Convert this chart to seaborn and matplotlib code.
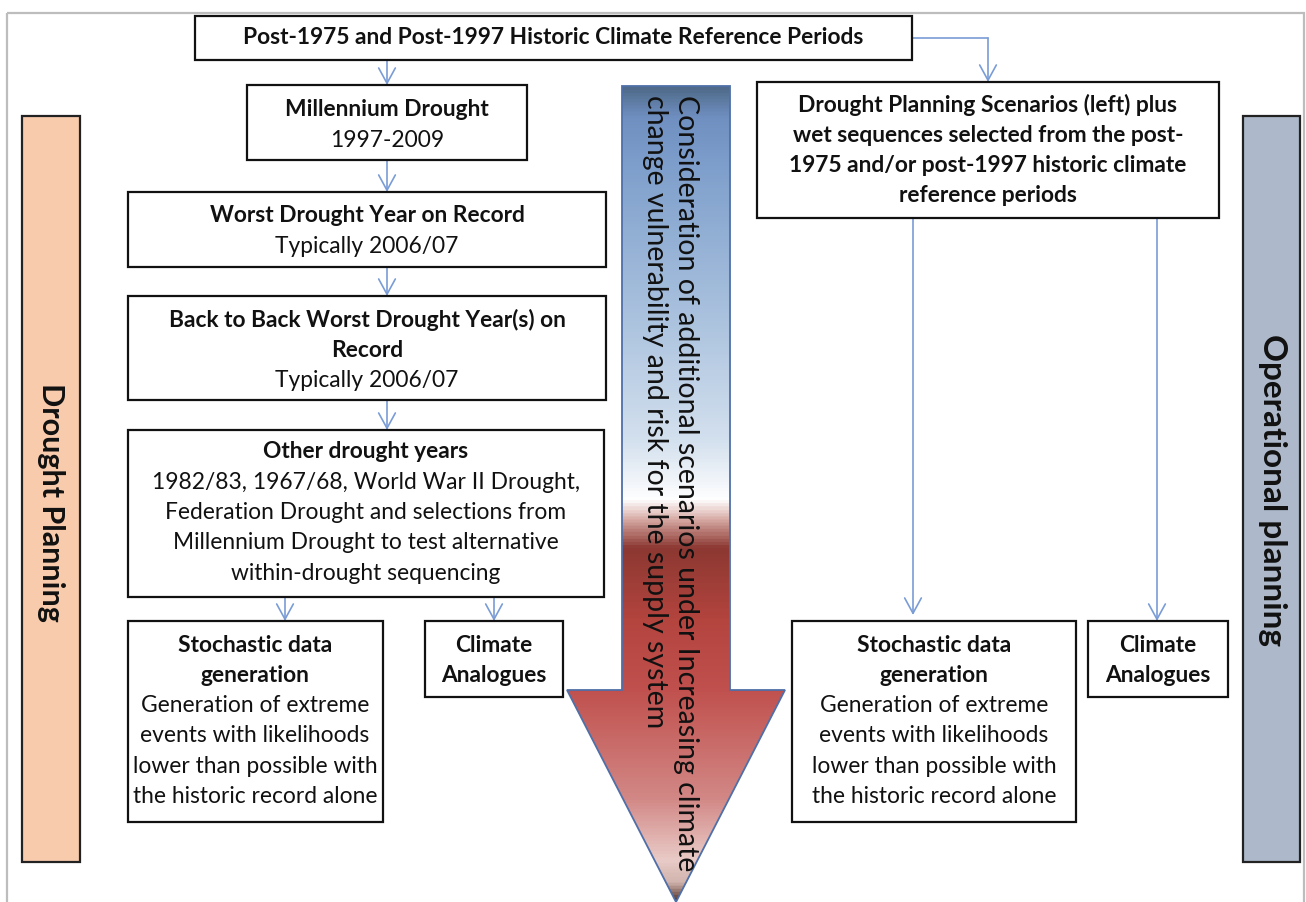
import numpy as np
import matplotlib
matplotlib.use("Agg")
import matplotlib.pyplot as plt
import seaborn as sns
from matplotlib.patches import Rectangle, Polygon
from matplotlib.colors import LinearSegmentedColormap

# ---------------- content ----------------
top_title = "Post-1975 and Post-1997 Historic Climate Reference Periods"
millennium_lines = [("Millennium Drought", True), ("1997-2009", False)]
worst_lines = [("Worst Drought Year on Record", True), ("Typically 2006/07", False)]
b2b_lines = [("Back to Back Worst Drought Year(s) on", True), ("Record", True),
             ("Typically 2006/07", False)]
other_lines = [("Other drought years", True),
               ("1982/83, 1967/68, World War II Drought,", False),
               ("Federation Drought and selections from", False),
               ("Millennium Drought to test alternative", False),
               ("within-drought sequencing", False)]
stoch_lines = [("Stochastic data", True), ("generation", True),
               ("Generation of extreme", False), ("events with likelihoods", False),
               ("lower than possible with", False), ("the historic record alone", False)]
analog_lines = [("Climate", True), ("Analogues", True)]
right_lines = [("Drought Planning Scenarios (left) plus", True),
               ("wet sequences selected from the post-", True),
               ("1975 and/or post-1997 historic climate", True),
               ("reference periods", True)]
arrow_text = ["Consideration of additional scenarios under Increasing climate",
              "change vulnerability and risk for the supply system"]
left_band = "Drought Planning"
right_band = "Operational planning"

# ---------------- style ----------------
sns.set_theme(style="white")
plt.rcParams['font.family'] = ['Lato', 'DejaVu Sans']

W, H = 1306, 902
fig = plt.figure(figsize=(W / 100, H / 100), dpi=100)
ax = fig.add_axes([0, 0, 1, 1])
ax.set_xlim(0, W)
ax.set_ylim(H, 0)
ax.axis("off")

FS = 16.4
LS = 30.3
BLUE = "#7A9CD6"

def box(x0, y0, x1, y1, lw=1.6):
    ax.add_patch(Rectangle((x0, y0), x1 - x0, y1 - y0, facecolor="white",
                           edgecolor="#111111", lw=lw, zorder=3))

def lines(cx, y_first, items, fs=FS):
    for i, (t, b) in enumerate(items):
        ax.text(cx, y_first + i * LS, t, ha="center", va="center", fontsize=fs,
                fontweight="bold" if b else "normal", color="#111111", zorder=4)

def arrow(x0, y0, x1, y1):
    ax.annotate("", xy=(x1, y1), xytext=(x0, y0),
                arrowprops=dict(arrowstyle="->,head_length=0.55,head_width=0.3",
                                color=BLUE, lw=1.2, shrinkA=0, shrinkB=0,
                                mutation_scale=20), zorder=2)

# outer frame
ax.add_patch(Rectangle((7, 13), 1297, 900, facecolor="none", edgecolor="#BDBDBD",
                       lw=1.6, zorder=1))

# side bands
ax.add_patch(Rectangle((22, 116), 58, 746, facecolor="#F8CBAD", edgecolor="#222222",
                       lw=1.6, zorder=3))
ax.add_patch(Rectangle((1243, 116), 57, 746, facecolor="#ADB9CA", edgecolor="#222222",
                       lw=1.6, zorder=3))
ax.text(51, 502, left_band, rotation=-90, ha="center", va="center", fontsize=22,
        fontweight="bold", color="#111111", zorder=4)
ax.text(1272, 490, right_band, rotation=-90, ha="center", va="center", fontsize=24,
        fontweight="bold", color="#111111", zorder=4)

# big gradient arrow
poly = [(622, 86), (730, 86), (730, 690), (785, 690), (676, 902), (567, 690), (622, 690)]
stops = [(86, "#4f6a8a"), (115, "#6f8fc0"), (160, "#7d9ecb"), (300, "#a5bedc"),
         (440, "#d3e0ee"), (500, "#ffffff"), (520, "#d6a8a2"), (548, "#8c3832"),
         (620, "#b3443e"), (690, "#c0504d"), (800, "#d28886"), (862, "#e9cbc7"),
         (884, "#d2b4ae"), (902, "#5a3b31")]
ys = np.array([s[0] for s in stops], dtype=float)
pos = (ys - ys[0]) / (ys[-1] - ys[0])
cmap = LinearSegmentedColormap.from_list("arr", list(zip(pos, [s[1] for s in stops])))
grad = np.linspace(0, 1, 800).reshape(-1, 1)
im = ax.imshow(grad, cmap=cmap, extent=[567, 785, 902, 86], aspect="auto",
               origin="upper", zorder=1.5, interpolation="bilinear")
arrow_patch = Polygon(poly, closed=True, facecolor="none", edgecolor="#4F6FA8",
                      lw=1.3, zorder=1.6)
ax.add_patch(arrow_patch)
im.set_clip_path(arrow_patch)
ax.set_xlim(0, W)
ax.set_ylim(H, 0)
ax.text(686, 95, arrow_text[0], rotation=-90, ha="center", va="top", fontsize=20.5,
        color="#111111", zorder=4)
ax.text(655, 95, arrow_text[1], rotation=-90, ha="center", va="top", fontsize=20.5,
        color="#111111", zorder=4)

# boxes
box(195, 16, 912, 60)
ax.text(553, 38, top_title, ha="center", va="center", fontsize=FS, fontweight="bold",
        color="#111111", zorder=4)
box(247, 85, 527, 160); lines(387, 110, millennium_lines)
box(128, 192, 606, 267); lines(367, 216, worst_lines)
box(128, 296, 606, 400); lines(367, 320, b2b_lines)
box(128, 430, 604, 597); lines(366, 452, other_lines)
box(128, 621, 383, 822); lines(255, 645, stoch_lines)
box(425, 621, 563, 697); lines(494, 645, analog_lines)
box(757, 82, 1219, 218); lines(988, 105, right_lines)
box(792, 621, 1076, 822); lines(934, 645, stoch_lines)
box(1088, 621, 1228, 697); lines(1158, 645, analog_lines)

# connectors
arrow(387, 60, 387, 85)
arrow(387, 160, 387, 192)
arrow(387, 267, 387, 296)
arrow(387, 400, 387, 430)
arrow(285, 597, 285, 621)
arrow(494, 597, 494, 621)
ax.plot([912, 988], [38, 38], color=BLUE, lw=1.2, zorder=2)
arrow(988, 38, 988, 82)
arrow(913, 218, 913, 615)
arrow(1157, 218, 1157, 621)

fig.savefig("out.png", dpi=100)
